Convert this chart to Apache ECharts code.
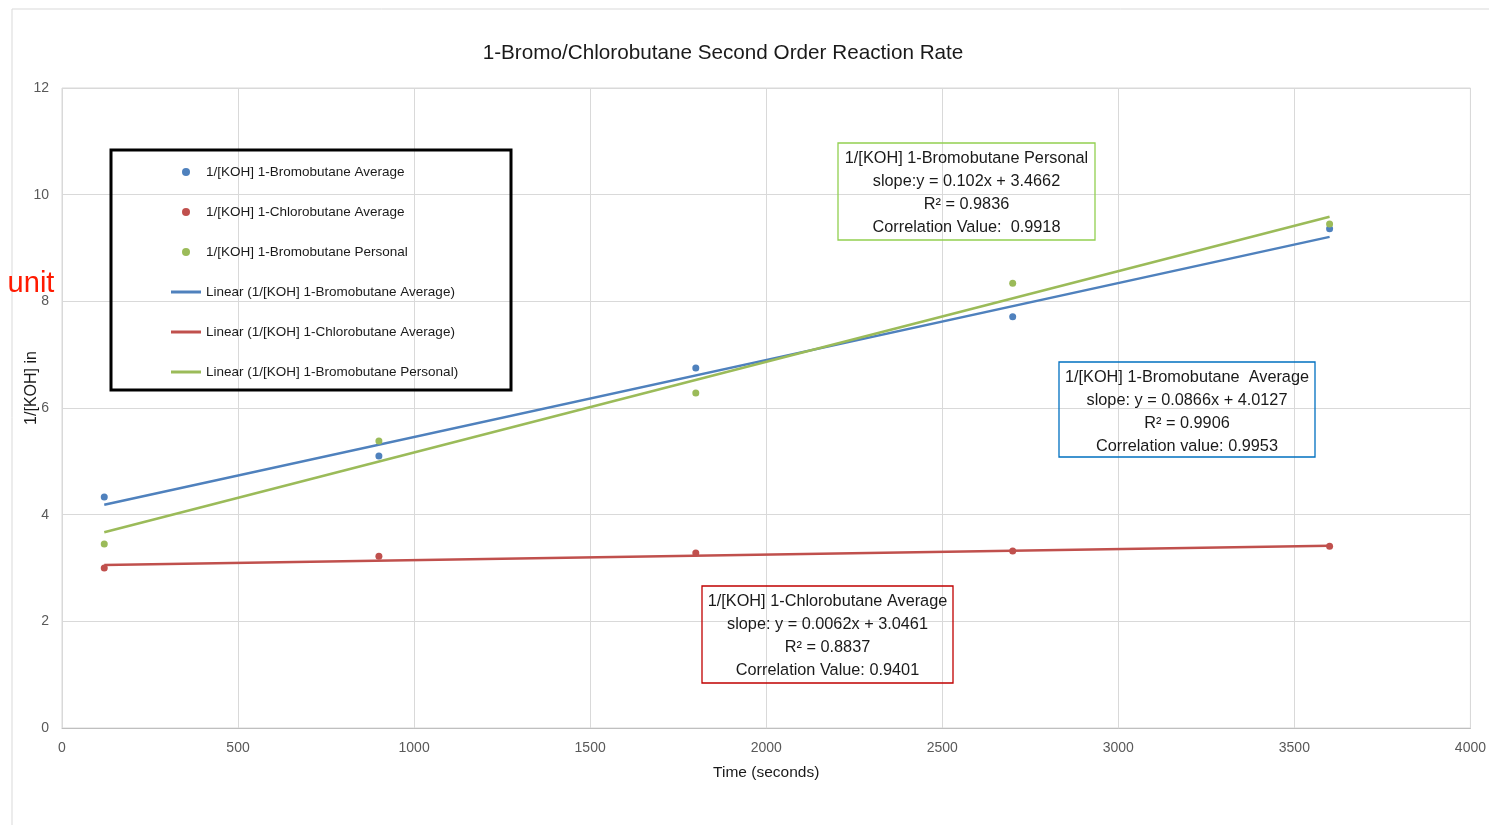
<!DOCTYPE html>
<html>
<head>
<meta charset="utf-8">
<script src="https://cdn.jsdelivr.net/npm/echarts@6/dist/echarts.min.js"></script>
<style>
html,body{margin:0;padding:0;background:#fff;overflow:hidden;}
#chart{width:1489px;height:825px;}
</style>
</head>
<body>
<div id="chart"></div>
<script>
// ---- data ----
const timeSeconds = [120, 900, 1800, 2700, 3600];
const bromoAverage = [4.33, 5.10, 6.75, 7.71, 9.36];
const chloroAverage = [3.00, 3.22, 3.28, 3.32, 3.41];
const bromoPersonal = [3.45, 5.38, 6.28, 8.34, 9.45];
const seriesNames = ['1/[KOH] 1-Bromobutane Average', '1/[KOH] 1-Chlorobutane Average', '1/[KOH] 1-Bromobutane Personal'];
// trendline equations from the chart (x in minutes)
const trendSlopes = [0.0866, 0.0062, 0.102];
const trendIntercepts = [4.0127, 3.0461, 3.4662];
const xTicks = [0, 500, 1000, 1500, 2000, 2500, 3000, 3500, 4000];
const yTicks = [0, 2, 4, 6, 8, 10, 12];
const titleText = '1-Bromo/Chlorobutane Second Order Reaction Rate';
const xAxisTitle = 'Time (seconds)';
const yAxisTitle = '1/[KOH] in';
const yAxisUnit = 'unit';
const noteGreen = ['1/[KOH] 1-Bromobutane Personal', 'slope:y = 0.102x + 3.4662', 'R² = 0.9836', 'Correlation Value:  0.9918'];
const noteBlue = ['1/[KOH] 1-Bromobutane  Average', 'slope: y = 0.0866x + 4.0127', 'R² = 0.9906', 'Correlation value: 0.9953'];
const noteRed = ['1/[KOH] 1-Chlorobutane Average', 'slope: y = 0.0062x + 3.0461', 'R² = 0.8837', 'Correlation Value: 0.9401'];

const colors = ['#4F81BD', '#C0504D', '#9BBB59'];
const FONT = 'Liberation Sans';
const valueSets = [bromoAverage, chloroAverage, bromoPersonal];

const scatterSeries = valueSets.map((vals, i) => ({
  name: seriesNames[i],
  type: 'scatter',
  symbol: 'circle',
  symbolSize: 7,
  itemStyle: {color: colors[i], opacity: 1},
  data: timeSeconds.map((t, j) => [t, vals[j]]),
  z: 3
}));
const tStart = timeSeconds[0], tEnd = timeSeconds[timeSeconds.length - 1];
const lineSeries = valueSets.map((vals, i) => ({
  name: 'Linear (' + seriesNames[i] + ')',
  type: 'line',
  symbol: 'none',
  showSymbol: false,
  lineStyle: {color: colors[i], width: 2.5},
  itemStyle: {color: colors[i]},
  data: [tStart, tEnd].map(t => [t, trendSlopes[i] * (t / 60) + trendIntercepts[i]]),
  z: 2
}));

function note(lines, x, y, w, h, color) {
  return {
    type: 'group', x: x, y: y,
    children: [
      {type: 'rect', z: 10, shape: {x: 0, y: 0, width: w, height: h},
       style: {fill: 'none', stroke: color, lineWidth: 1.3}},
      {type: 'text', z: 10, x: w / 2, y: 4,
       style: {text: lines.join('\n'), fill: '#1a1a1a', font: '16.3px "' + FONT + '"',
               textAlign: 'center', lineHeight: 23}}
    ]
  };
}

const legendData = scatterSeries.map(s => ({name: s.name, icon: 'circle'}))
  .concat(lineSeries.map(s => ({name: s.name, icon: 'path://M0,0L30,0L30,3L0,3Z'})));

const chart = echarts.init(document.getElementById('chart'));
chart.setOption({
  animation: false,
  backgroundColor: '#fff',
  grid: {left: 62, top: 88, right: 14, bottom: 97, show: true, borderColor: '#d9d9d9', borderWidth: 1},
  xAxis: {
    type: 'value', min: xTicks[0], max: xTicks[xTicks.length - 1], interval: 500,
    axisLine: {show: true, lineStyle: {color: '#bfbfbf'}},
    axisTick: {show: false},
    axisLabel: {color: '#595959', fontSize: 14, fontFamily: FONT, margin: 13, formatter: v => String(v)},
    splitLine: {show: true, lineStyle: {color: '#d9d9d9'}},
    name: xAxisTitle, nameLocation: 'middle', nameGap: 37,
    nameTextStyle: {color: '#1a1a1a', fontSize: 15.5, fontFamily: FONT}
  },
  yAxis: {
    type: 'value', min: yTicks[0], max: yTicks[yTicks.length - 1], interval: 2,
    axisLine: {show: false},
    axisTick: {show: false},
    axisLabel: {color: '#595959', fontSize: 14, fontFamily: FONT, margin: 13},
    splitLine: {show: true, lineStyle: {color: '#d9d9d9'}}
  },
  legend: {
    orient: 'vertical', left: 166, top: 159,
    itemWidth: 30, itemHeight: 8, itemGap: 24,
    textStyle: {fontSize: 13.5, fontFamily: FONT, color: '#1a1a1a', lineHeight: 16},
    data: legendData
  },
  graphic: [
    {type: 'rect', z: -1, silent: true,
     shape: {x: 12, y: 9, width: 1500, height: 840}, style: {fill: 'none', stroke: '#d9d9d9', lineWidth: 1}},
    {type: 'rect', z: 5,
     shape: {x: 111, y: 150, width: 400, height: 240}, style: {fill: 'none', stroke: '#000', lineWidth: 3}},
    {type: 'text', x: 723, y: 53, z: 10,
     style: {text: titleText, font: '20.7px "' + FONT + '"', fill: '#1a1a1a', textAlign: 'center', textVerticalAlign: 'middle'}},
    {type: 'text', x: 32, y: 388, rotation: Math.PI / 2, z: 10,
     style: {text: yAxisTitle, font: '16px "' + FONT + '"', fill: '#1a1a1a', textAlign: 'center', textVerticalAlign: 'middle'}},
    {type: 'text', x: 31, y: 284, z: 10,
     style: {text: yAxisUnit, font: '29px "' + FONT + '"', fill: '#ff1a00', textAlign: 'center', textVerticalAlign: 'middle'}},
    note(noteGreen, 838, 143, 257, 97, '#92d050'),
    note(noteBlue, 1059, 362, 256, 95, '#0070c0'),
    note(noteRed, 702, 586, 251, 97, '#c00000')
  ],
  series: scatterSeries.concat(lineSeries)
});
</script>
</body>
</html>
